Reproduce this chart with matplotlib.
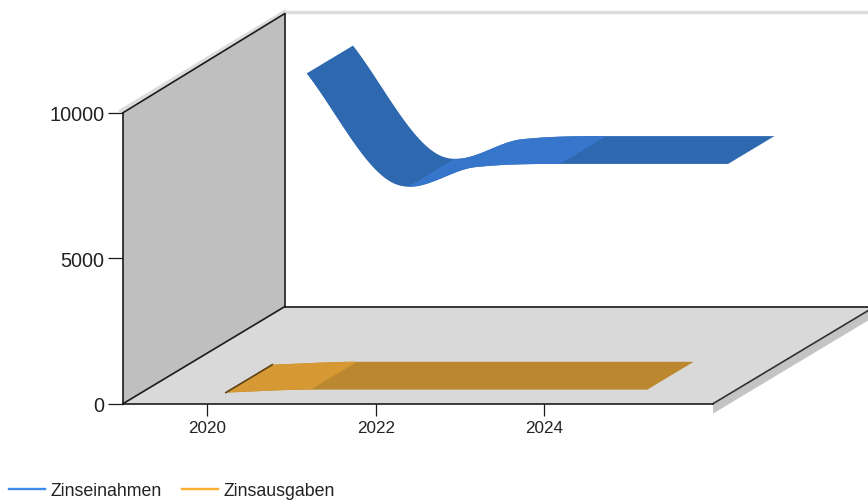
import matplotlib
matplotlib.use("Agg")
import matplotlib.pyplot as plt
import numpy as np
from matplotlib.lines import Line2D

plt.rcParams['font.family'] = ['Liberation Sans', 'DejaVu Sans']

years = [2020, 2021, 2022, 2023, 2024, 2025]
zinseinahmen = [9300, 5570, 6080, 6190, 6190, 6190]
zinsausgaben = [0, 100, 100, 100, 100, 100]
x_ticks = [2020, 2022, 2024]
y_ticks = [0, 5000, 10000]

# depth of the fake 3d box, in data units
DX = 1.917
DY = 3333
WIDTH = 0.287


def smooth(xs, ys, n=30):
    # catmull-rom between the yearly values, flat where the values do not change
    xs = np.array(xs, dtype=float)
    ys = np.array(ys, dtype=float)
    m = np.gradient(ys, xs)
    flat = np.diff(ys) == 0
    m[:-1][flat] = 0
    m[1:][flat] = 0
    out_x, out_y = [], []
    for i in range(len(xs) - 1):
        t = np.linspace(0, 1, n)
        h = xs[i + 1] - xs[i]
        a = (2*t**3 - 3*t**2 + 1) * ys[i] + (t**3 - 2*t**2 + t) * h * m[i]
        b = (-2*t**3 + 3*t**2) * ys[i + 1] + (t**3 - t**2) * h * m[i + 1]
        out_x.append(xs[i] + t * h)
        out_y.append(a + b)
    return np.concatenate(out_x), np.concatenate(out_y)


def ribbon(ax, xs, ys, d0, dark, light):
    sx, sy = smooth(xs, ys)
    x0, y0 = sx + d0 * DX, sy + d0 * DY
    dx, dy = WIDTH * DX, WIDTH * DY
    ax.fill(np.r_[x0, (x0 + dx)[::-1]], np.r_[y0, (y0 + dy)[::-1]],
            color=dark, lw=0, clip_on=False, zorder=3)
    rising = np.diff(sy) > 1e-6
    for i in np.where(rising)[0]:
        ax.fill([x0[i], x0[i + 1] + 0.005, x0[i + 1] + dx + 0.005, x0[i] + dx],
                [y0[i], y0[i + 1], y0[i + 1] + dy, y0[i] + dy],
                color=light, lw=0, clip_on=False, zorder=4)
    return x0, y0, dx, dy


W, H = 868, 502
fig = plt.figure(figsize=(W / 100, H / 100), dpi=100)
ax = fig.add_axes([123 / W, 1 - 404.7 / H, 590 / W, 291 / H])
ax.set_xlim(2019, 2026)
ax.set_ylim(0, 10000)

# walls and shadows
ax.fill([2019, 2019 + DX, 2019 + DX, 2019], [0, DY, 10000 + DY + 70, 10000],
        color="#bfbfbf", lw=0, clip_on=False, zorder=1)
ax.fill([2019, 2026, 2026 + DX, 2019 + DX], [0, 0, DY, DY],
        color="#d9d9d9", lw=0, clip_on=False, zorder=1)
ax.fill([2026, 2026 + DX, 2026 + DX, 2026], [0, DY, DY - 340, -340],
        color="#c4c4c4", lw=0, clip_on=False, zorder=0)
ax.plot([2019 - 0.03, 2019 + DX], [10060, 10000 + DY + 140], color="#dcdcdc",
        lw=2.5, clip_on=False, zorder=0)
ax.plot([2019 + DX, 2026 + DX], [10000 + DY + 120] * 2, color="#dcdcdc",
        lw=2.5, clip_on=False, zorder=0)

line = dict(color="#1a1a1a", lw=1.2, clip_on=False, zorder=2)
ax.plot([2019, 2019 + DX], [0, DY], **line)
ax.plot([2019, 2019 + DX], [10000, 10000 + DY + 70], **line)
ax.plot([2019 + DX, 2019 + DX], [DY, 10000 + DY + 70], **line)
ax.plot([2019 + DX, 2026 + DX], [DY, DY], **line)
ax.plot([2026, 2026 + DX], [0, DY], color="#333333", lw=1.2, clip_on=False, zorder=2)

# series
ribbon(ax, years, zinseinahmen, 0.615, "#2e69b0", "#3778ce")
x0, y0, dx, dy = ribbon(ax, years, zinsausgaben, 0.115, "#bc882f", "#d89a35")
ax.plot([x0[0], x0[0] + dx], [y0[0], y0[0] + dy], color="#5e4318", lw=1.2,
        clip_on=False, zorder=5)

ax.spines[['top', 'right']].set_visible(False)
ax.spines[['left', 'bottom']].set_linewidth(1.2)
ax.spines[['left', 'bottom']].set_color("#1a1a1a")
ax.patch.set_alpha(0)
ax.set_xticks(x_ticks)
ax.set_yticks(y_ticks)
ax.tick_params(axis='x', length=8.5, width=0.9, labelsize=12.3, pad=3, color="#1a1a1a", labelcolor="#222222")
ax.tick_params(axis='y', length=10.8, width=0.9, labelsize=14.3, pad=2.5, color="#1a1a1a", labelcolor="#222222")

handles = [Line2D([], [], color="#3d8beb", lw=1.7), Line2D([], [], color="#ffac33", lw=1.7)]
fig.legend(handles, ["Zinseinahmen", "Zinsausgaben"], loc="lower left",
           bbox_to_anchor=(9 / W, 2 / H), ncol=2, frameon=False, fontsize=12.8,
           labelcolor="#222222", handlelength=2.0, handletextpad=0.33,
           columnspacing=1.15, borderpad=0, borderaxespad=0)

fig.savefig("out.png", dpi=100)
